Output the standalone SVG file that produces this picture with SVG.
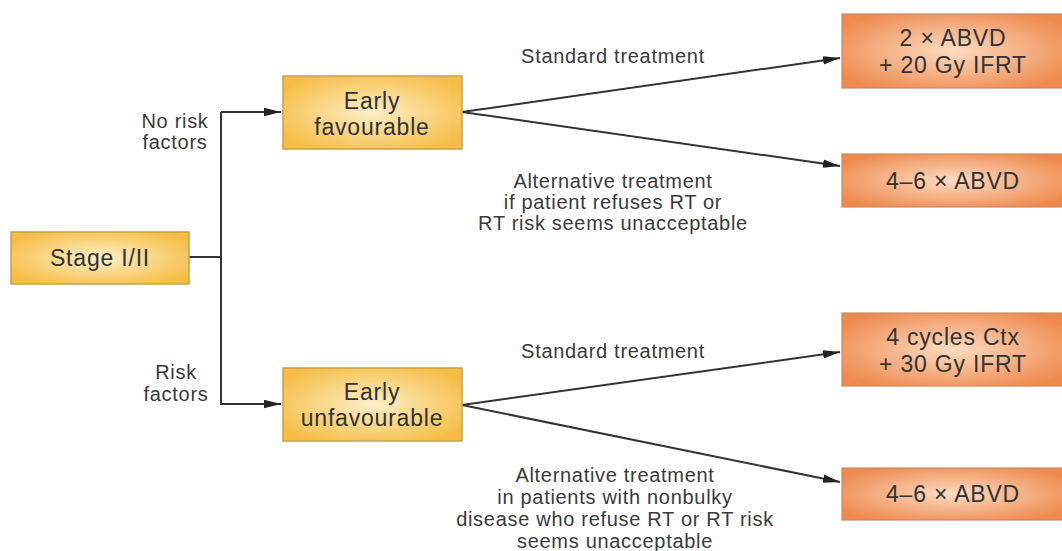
<svg xmlns="http://www.w3.org/2000/svg" width="1062" height="551" viewBox="0 0 1062 551">
<style>
.lbl{font-family:"Liberation Sans",Arial,sans-serif;font-size:20px;fill:#3a3a3a;text-anchor:middle;letter-spacing:0.7px}
.bt{font-family:"Liberation Sans",Arial,sans-serif;font-size:23px;fill:#333;text-anchor:middle;letter-spacing:0.8px}
.yb{fill:url(#yg);stroke:#c9a04a;stroke-width:1.5}
.ob{fill:url(#og);stroke:#c98a60;stroke-width:1.2}
.cn{fill:none;stroke:#333;stroke-width:2}
</style>
<defs>
<radialGradient id="yg" cx="0.5" cy="0.5" r="0.6">
<stop offset="0" stop-color="#fdefc8"/>
<stop offset="1" stop-color="#f6bd45"/>
</radialGradient>
<radialGradient id="og" cx="0.5" cy="0.5" r="0.6">
<stop offset="0" stop-color="#fcdcc2"/>
<stop offset="1" stop-color="#ef8a4f"/>
</radialGradient>
<marker id="ar" viewBox="0 0 16 8" refX="16" refY="4" markerWidth="17" markerHeight="9" markerUnits="userSpaceOnUse" orient="auto">
<path d="M0,0 L16,4 L0,8 Z" fill="#222"/>
</marker>
</defs>
<rect width="1062" height="551" fill="#fff"/>
<g id="connectors">
<path class="cn" d="M189,257 H221"/>
<path class="cn" d="M221,112 V405"/>
<path class="cn" d="M221,112 H281" marker-end="url(#ar)"/>
<path class="cn" d="M221,404 H281" marker-end="url(#ar)"/>
<path class="cn" d="M462,112 L840,58" marker-end="url(#ar)"/>
<path class="cn" d="M462,112 L840,166" marker-end="url(#ar)"/>
<path class="cn" d="M462,405 L840,352" marker-end="url(#ar)"/>
<path class="cn" d="M462,405 L840,482" marker-end="url(#ar)"/>
</g>
<g id="stage">
<rect class="yb" x="11" y="232" width="178" height="52"/>
<text class="bt" x="100" y="266">Stage I/II</text>
</g>
<g id="early-fav">
<rect class="yb" x="283" y="76" width="179" height="73"/>
<text class="bt" x="372" y="109">Early</text>
<text class="bt" x="372" y="135">favourable</text>
</g>
<g id="early-unfav">
<rect class="yb" x="283" y="368" width="179" height="73"/>
<text class="bt" x="372" y="400">Early</text>
<text class="bt" x="372" y="426">unfavourable</text>
</g>
<g id="out1">
<rect class="ob" x="842" y="14" width="222" height="74"/>
<text class="bt" x="953" y="46">2 × ABVD</text>
<text class="bt" x="953" y="73">+ 20 Gy IFRT</text>
</g>
<g id="out2">
<rect class="ob" x="842" y="154" width="222" height="53"/>
<text class="bt" x="953" y="189">4–6 × ABVD</text>
</g>
<g id="out3">
<rect class="ob" x="842" y="313" width="222" height="73"/>
<text class="bt" x="953" y="345">4 cycles Ctx</text>
<text class="bt" x="953" y="372">+ 30 Gy IFRT</text>
</g>
<g id="out4">
<rect class="ob" x="842" y="468" width="222" height="52"/>
<text class="bt" x="953" y="502">4–6 × ABVD</text>
</g>
<g id="labels">
<text class="lbl" x="175" y="128">No risk</text>
<text class="lbl" x="175" y="149">factors</text>
<text class="lbl" x="176" y="379">Risk</text>
<text class="lbl" x="176" y="401">factors</text>
<text class="lbl" x="613" y="63">Standard treatment</text>
<text class="lbl" x="613" y="188">Alternative treatment</text>
<text class="lbl" x="613" y="209">if patient refuses RT or</text>
<text class="lbl" x="613" y="230">RT risk seems unacceptable</text>
<text class="lbl" x="613" y="358">Standard treatment</text>
<text class="lbl" x="615" y="482">Alternative treatment</text>
<text class="lbl" x="615" y="504">in patients with nonbulky</text>
<text class="lbl" x="615" y="526">disease who refuse RT or RT risk</text>
<text class="lbl" x="615" y="548">seems unacceptable</text>
</g>
</svg>
